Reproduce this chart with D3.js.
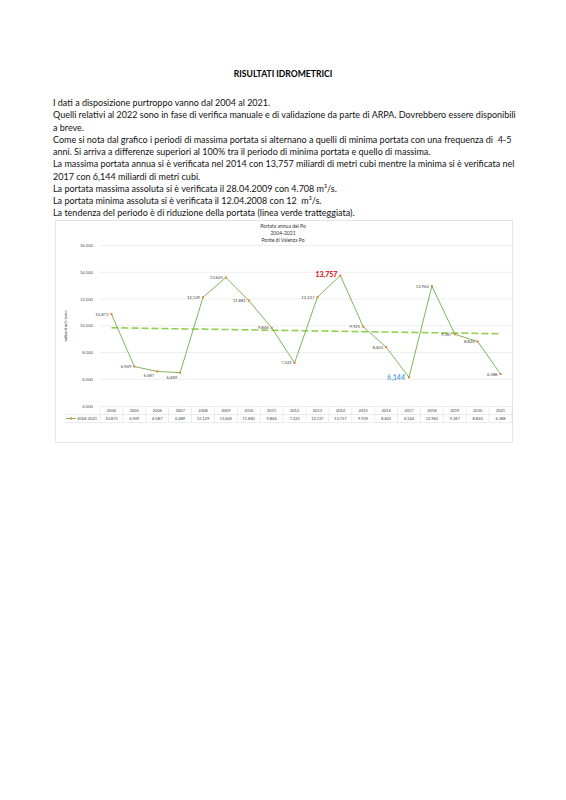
<!DOCTYPE html>
<html><head><meta charset="utf-8">
<script src="https://cdn.jsdelivr.net/npm/d3@7"></script>
<style>body{margin:0;background:#fff}svg{display:block}text.body{white-space:pre}</style>
</head><body>
<svg id="page" width="566" height="800"></svg>
<script>
const years = ["2004","2005","2006","2007","2008","2009","2010","2011","2012","2013","2014","2015","2016","2017","2018","2019","2020","2021"];
const portata = [10873,6949,6587,6489,12129,13605,11881,9846,7222,12137,13757,9925,8403,6144,12962,9367,8820,6388];
const trend = [9850, 9400]; // linea di tendenza, inizio e fine
const yTicks = [4000,6000,8000,10000,12000,14000,16000];
const chartTitle = ["Portata annua del Po","2004-2021","Ponte di Valenza Po"];
const bodyLines = [
  "I dati a disposizione purtroppo vanno dal 2004 al 2021.",
  "Quelli relativi al 2022 sono in fase di verifica manuale e di validazione da parte di ARPA. Dovrebbero essere disponibili",
  "a breve.",
  "Come si nota dal grafico i periodi di massima portata si alternano a quelli di minima portata con una frequenza di  4-5",
  "anni. Si arriva a differenze superiori al 100% tra il periodo di minima portata e quello di massima.",
  "La massima portata annua si è verificata nel 2014 con 13,757 miliardi di metri cubi mentre la minima si è verificata nel",
  "2017 con 6,144 miliardi di metri cubi.",
  "La portata massima assoluta si è verificata il 28.04.2009 con 4.708 m³/s.",
  "La portata minima assoluta si è verificata il 12.04.2008 con 12  m³/s.",
  "La tendenza del periodo è di riduzione della portata (linea verde tratteggiata)."
];

const svg = d3.select("#page");
const font = "Lato, 'Open Sans', sans-serif";
const fmt = d3.format(",");

// intestazione e testo
svg.append("text").attr("x", 283).attr("y", 77).attr("text-anchor", "middle")
  .attr("font-family", font).attr("font-weight", "bold").attr("font-size", 8.6)
  .text("RISULTATI IDROMETRICI");
svg.selectAll("text.body").data(bodyLines).join("text").attr("class", "body")
  .attr("x", 53).attr("y", (d, i) => 106 + i * 12.25)
  .attr("font-family", font).attr("font-size", 9).attr("fill", "#111")
  .text(d => d);

// riquadro del grafico
svg.append("rect").attr("x", 55.5).attr("y", 220.5).attr("width", 457).attr("height", 222)
  .attr("fill", "#fff").attr("stroke", "#d9d9d9").attr("stroke-width", 0.7);
svg.selectAll("text.ct").data(chartTitle).join("text").attr("class", "ct")
  .attr("x", 283).attr("y", (d, i) => 228 + i * 7)
  .attr("text-anchor", "middle").attr("font-family", font).attr("font-size", 5).attr("fill", "#333")
  .text(d => d);

const x = d3.scaleBand().domain(years).range([100, 512]);
const y = d3.scaleLinear().domain([4000, 16000]).range([406, 245.5]);
const cx = d => x(d) + x.bandwidth() / 2;

// griglia e asse y
const g = svg.append("g");
g.selectAll("line.grid").data(yTicks.filter(t => t > 4000)).join("line")
  .attr("x1", 100).attr("x2", 512).attr("y1", d => y(d)).attr("y2", d => y(d))
  .attr("stroke", "#e3e3e3").attr("stroke-width", 0.6);
g.selectAll("text.yt").data(yTicks).join("text")
  .attr("x", 93).attr("y", d => y(d) + 1.5).attr("text-anchor", "end")
  .attr("font-family", font).attr("font-size", 4.2).attr("fill", "#555")
  .text(d => fmt(d));
g.append("text").attr("transform", "translate(67,326) rotate(-90)")
  .attr("text-anchor", "middle").attr("font-family", font).attr("font-size", 4.2).attr("fill", "#333")
  .text("miliardi m3/anno");

// linea di tendenza
svg.append("line").attr("x1", cx(years[0])).attr("x2", cx(years[years.length - 1]))
  .attr("y1", y(trend[0])).attr("y2", y(trend[1]))
  .attr("stroke", "#92D050").attr("stroke-width", 1.6).attr("stroke-dasharray", "7,3");

// serie
const line = d3.line().x((d, i) => cx(years[i])).y(d => y(d));
svg.append("path").datum(portata).attr("d", line).attr("fill", "none")
  .attr("stroke", "#70AD47").attr("stroke-width", 0.9);
svg.selectAll("rect.mk").data(portata).join("rect")
  .attr("x", (d, i) => cx(years[i]) - 1).attr("y", d => y(d) - 1)
  .attr("width", 2).attr("height", 2).attr("fill", "#ED7D31");

// etichette dati
const maxI = portata.indexOf(d3.max(portata));
const minI = portata.indexOf(d3.min(portata));
const below = [2, 3];
svg.selectAll("text.lbl").data(portata).join("text")
  .attr("x", (d, i) => i === minI ? cx(years[i]) - 4 : cx(years[i]) - 3)
  .attr("y", (d, i) => i === minI ? y(d) + 3 : below.includes(i) ? y(d) + 6 : y(d) + 1.5)
  .attr("text-anchor", "end").attr("font-family", font)
  .attr("font-size", (d, i) => (i === maxI || i === minI) ? 7 : 4.2)
  .attr("font-weight", (d, i) => (i === maxI || i === minI) ? "bold" : "normal")
  .attr("fill", (d, i) => i === maxI ? "#E00000" : i === minI ? "#5BA3E0" : "#444")
  .text(d => fmt(d));

// tabella dati
const t = svg.append("g");
t.append("line").attr("x1", 100).attr("x2", 512).attr("y1", 406.5).attr("y2", 406.5).attr("stroke", "#d9d9d9").attr("stroke-width", 0.5);
t.append("line").attr("x1", 65).attr("x2", 512).attr("y1", 414.5).attr("y2", 414.5).attr("stroke", "#d9d9d9").attr("stroke-width", 0.5);
t.append("line").attr("x1", 65).attr("x2", 512).attr("y1", 422.5).attr("y2", 422.5).attr("stroke", "#d9d9d9").attr("stroke-width", 0.5);
t.selectAll("line.col").data(years.concat(["end"])).join("line")
  .attr("x1", (d, i) => 100 + i * x.bandwidth()).attr("x2", (d, i) => 100 + i * x.bandwidth())
  .attr("y1", 406.5).attr("y2", 422.5).attr("stroke", "#d9d9d9").attr("stroke-width", 0.5);
t.selectAll("text.yr").data(years).join("text")
  .attr("x", d => cx(d)).attr("y", 412).attr("text-anchor", "middle")
  .attr("font-family", font).attr("font-size", 4).attr("fill", "#444").text(d => d);
t.selectAll("text.vl").data(portata).join("text")
  .attr("x", (d, i) => cx(years[i])).attr("y", 420).attr("text-anchor", "middle")
  .attr("font-family", font).attr("font-size", 4).attr("fill", "#444").text(d => fmt(d));
t.append("line").attr("x1", 66).attr("x2", 76).attr("y1", 418.5).attr("y2", 418.5).attr("stroke", "#70AD47").attr("stroke-width", 0.9);
t.append("rect").attr("x", 70).attr("y", 417.5).attr("width", 2).attr("height", 2).attr("fill", "#ED7D31");
t.append("text").attr("x", 77).attr("y", 420).attr("font-family", font).attr("font-size", 4).attr("fill", "#444").text("2004-2021");
</script>
</body></html>
